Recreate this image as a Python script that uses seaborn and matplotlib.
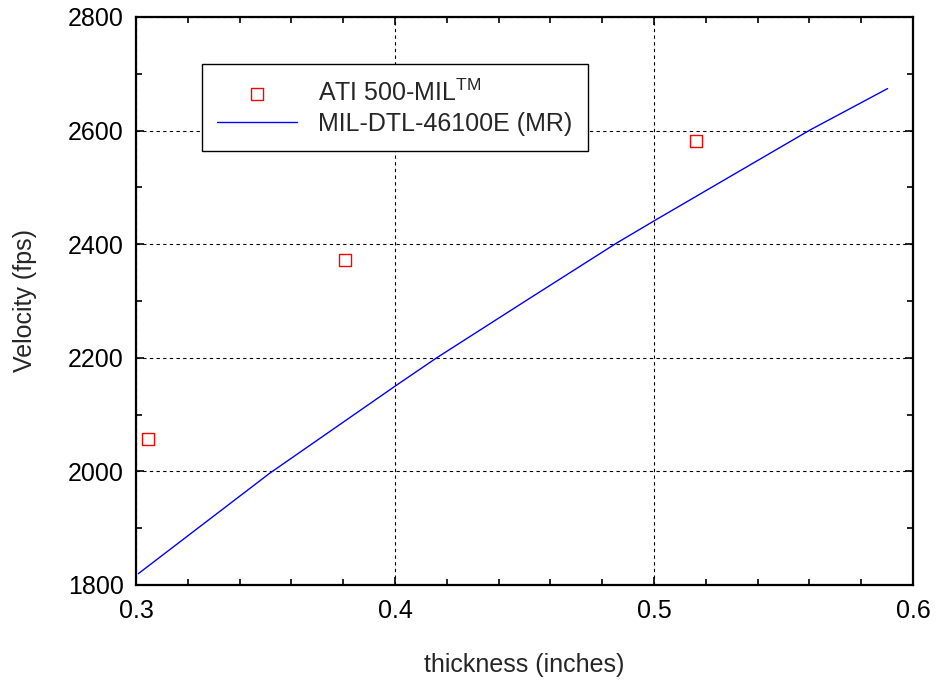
import matplotlib
matplotlib.use("Agg")
import matplotlib.pyplot as plt
import seaborn as sns
import pandas as pd
from matplotlib.ticker import MultipleLocator, FuncFormatter

# Data
ati_thickness = [0.3046, 0.3807, 0.5162]
ati_velocity = [2057, 2372, 2582]

mil_thickness = [0.3009, 0.3517, 0.400, 0.4161, 0.4514, 0.4852, 0.500, 0.5602, 0.5902]
mil_velocity = [1820, 1997, 2150, 2200, 2303, 2401, 2441, 2601, 2674]

ati_label = "ATI 500-MIL$^{\\mathrm{TM}}$"
mil_label = "MIL-DTL-46100E (MR)"

sns.set_theme(style="ticks")
plt.rcParams["font.family"] = ["Liberation Sans", "DejaVu Sans"]
plt.rcParams["mathtext.fontset"] = "custom"
plt.rcParams["mathtext.rm"] = "Liberation Sans"
plt.rcParams["mathtext.it"] = "Liberation Sans:italic"
plt.rcParams["mathtext.bf"] = "Liberation Sans:bold"

FS = 18

fig = plt.figure(figsize=(9.39, 6.82), dpi=100)
ax = fig.add_axes([136/939, 1-585/682, (913-136)/939, (585-17)/682])

df_ati = pd.DataFrame({"x": ati_thickness, "y": ati_velocity})
df_mil = pd.DataFrame({"x": mil_thickness, "y": mil_velocity})

sns.scatterplot(data=df_ati, x="x", y="y", ax=ax, marker="s", s=75,
                facecolor="none", edgecolor="red", linewidth=1.0,
                label=ati_label, zorder=3)
sns.lineplot(data=df_mil, x="x", y="y", ax=ax, color="blue", linewidth=1.0,
             label=mil_label, zorder=3, sort=False)

ax.set_xlim(0.3, 0.6)
ax.set_ylim(1800, 2800)
ax.xaxis.set_major_locator(MultipleLocator(0.1))
ax.xaxis.set_minor_locator(MultipleLocator(0.02))
ax.yaxis.set_major_locator(MultipleLocator(200))
ax.yaxis.set_minor_locator(MultipleLocator(100))
ax.xaxis.set_major_formatter(FuncFormatter(lambda v, p: f"{v:.1f}"))
ax.yaxis.set_major_formatter(FuncFormatter(lambda v, p: f"{v:.0f}"))

ax.tick_params(which="both", direction="in", top=True, right=True, colors="black",
               labelsize=FS, width=1.2)
ax.tick_params(which="major", length=6)
ax.tick_params(axis="x", which="major", pad=10)
ax.tick_params(axis="y", which="major", pad=9)
ax.tick_params(which="minor", length=4)

for s in ax.spines.values():
    s.set_linewidth(1.6)
    s.set_color("black")

ax.grid(True, which="major", color="black", linestyle=(0, (3, 3)), linewidth=0.8)
ax.set_axisbelow(True)

ax.set_xlabel("thickness (inches)", fontsize=FS, labelpad=22)
ax.set_ylabel("Velocity (fps)", fontsize=FS, labelpad=22)

leg = ax.legend(loc="upper left", bbox_to_anchor=(0.085, 0.917), borderaxespad=0,
                fontsize=FS, frameon=True, fancybox=False, handlelength=3.2,
                handletextpad=0.85, borderpad=0.6, labelspacing=0.25)
leg.get_frame().set_edgecolor("black")
leg.get_frame().set_linewidth(1.0)
leg.get_frame().set_alpha(1)

fig.savefig("out.png", dpi=100, facecolor="white")
